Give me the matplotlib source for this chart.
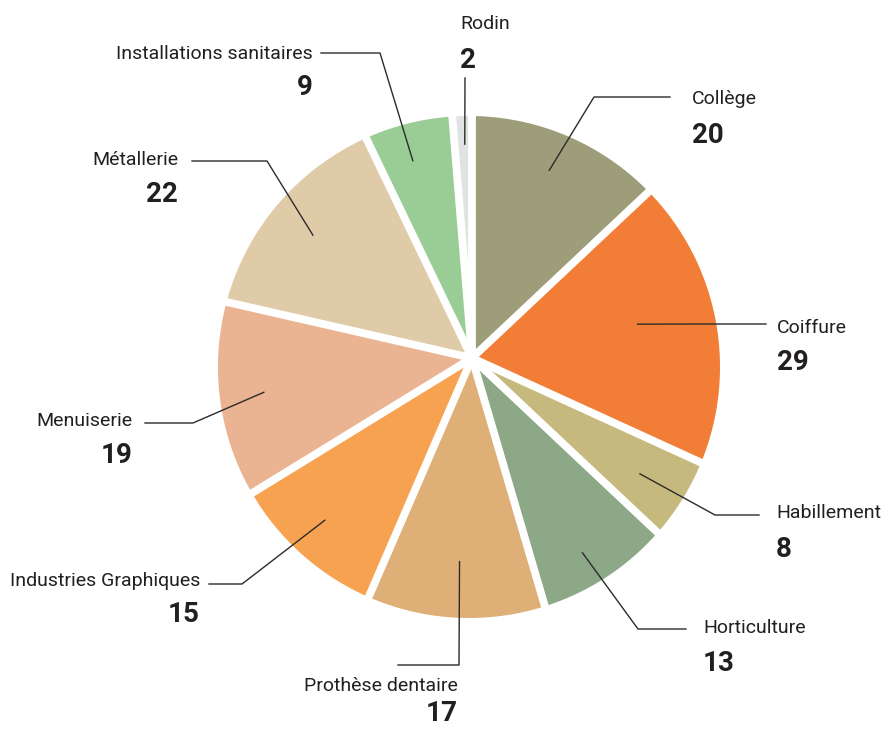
"""
Pie of pupils per section, with leader-line labels (name + bold count).
Drawn in pixel coordinates on a single axis covering the whole figure.
"""

import numpy as np
import matplotlib
matplotlib.use("Agg")
import matplotlib.pyplot as plt
from matplotlib.patches import Polygon

# data, clockwise from 12 o'clock
sections = ["Collège", "Coiffure", "Habillement", "Horticulture",
            "Prothèse dentaire", "Industries Graphiques", "Menuiserie",
            "Métallerie", "Installations sanitaires", "Rodin"]
counts = [20, 29, 8, 13, 17, 15, 19, 22, 9, 2]
colors = ["#9d9d79", "#f27d37", "#c6b97e", "#8ca886", "#deb077",
          "#f7a250", "#eab391", "#e0cba8", "#99cd95", "#e1e2e4"]

# layout (pixels, y down)
W, H = 881, 729
APEX = np.array([472.0, 358.0])     # where the white separators meet
CENTER = np.array([469.0, 367.0])   # centre of the outer circle
R = 251.0
GAP_PT = 5.6
TEXT = "#231f20"
LINE = "#2b2b2b"
FONT = "Roboto"

# per label: anchor distance from apex, anchor angle offset, elbow,
# line end, text x, alignment, name baseline, number baseline
labels_layout = [
    (203, -1.0, (594, 97), (670, 97), 692, "left", 104, 143),
    (169, -2.2, (700, 324), (766, 324), 777, "left", 333, 370),
    (204, 0.7, (715, 515), (759, 515), 776, "left", 518, 557),
    (224, 2.0, (638, 629), (686, 629), 703, "left", 633, 671),
    (204, 0.0, (459, 665), (398, 665), 458, "right", 691, 721),
    (219, 1.3, (242, 584), (209, 584), 200, "right", 586, 622),
    (211, 0.0, (193, 423), (145, 423), 133, "right", 426, 463),
    (201, -0.9, (267, 161), (192, 161), 178, "right", 165, 202),
    (206, -1.5, (380, 53), (321, 53), 313, "right", 59, 95),
    (214, 0.4, (465, 78), (465, 78), 460, "left", 29, 68),
]


def direction(theta_deg):
    t = np.radians(theta_deg)
    return np.array([np.sin(t), -np.cos(t)])


def ray_hit(theta_deg):
    """Point where the ray from APEX at angle theta meets the outer circle."""
    d = direction(theta_deg)
    w = APEX - CENTER
    b = w @ d
    t = -b + np.sqrt(b * b - (w @ w - R * R))
    return APEX + t * d


fig = plt.figure(figsize=(W / 100, H / 100), dpi=100, facecolor="white")
ax = fig.add_axes([0, 0, 1, 1])
ax.set_xlim(0, W)
ax.set_ylim(H, 0)
ax.set_aspect("equal")
ax.axis("off")

total = sum(counts)
bounds = np.concatenate([[0], np.cumsum(counts)]) / total * 360.0

# wedges
for i, col in enumerate(colors):
    a0, a1 = bounds[i], bounds[i + 1]
    arc = [ray_hit(a) for a in np.linspace(a0, a1, 80)]
    ax.add_patch(Polygon([APEX] + arc, closed=True, facecolor=col,
                         edgecolor="none", zorder=1))

# white separators
for a in bounds[:-1]:
    end = APEX + direction(a) * (R + 30)
    ax.plot([APEX[0], end[0]], [APEX[1], end[1]], color="white",
            lw=GAP_PT, solid_capstyle="butt", zorder=2)

# leader lines and labels
for i, (name, n) in enumerate(zip(sections, counts)):
    dist, off, elbow, end, tx, ha, y_name, y_num = labels_layout[i]
    mid = (bounds[i] + bounds[i + 1]) / 2 + off
    anchor = APEX + direction(mid) * dist
    xs = [anchor[0], elbow[0], end[0]]
    ys = [anchor[1], elbow[1], end[1]]
    ax.plot(xs, ys, color=LINE, lw=1.0, zorder=3)
    ax.text(tx, y_name, name, ha=ha, va="baseline", fontsize=14,
            family=FONT, color=TEXT)
    ax.text(tx, y_num, str(n), ha=ha, va="baseline", fontsize=20,
            family=FONT, fontweight="bold", color=TEXT)

fig.savefig("out.png", dpi=100, facecolor="white")
